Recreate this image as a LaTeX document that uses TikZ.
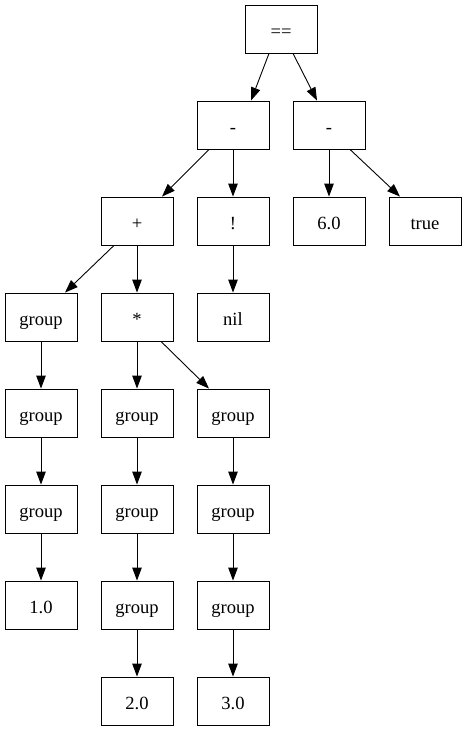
\documentclass[tikz,border=0pt]{standalone}
\usepackage{fontspec}
\setmainfont{Liberation Serif}
\usetikzlibrary{arrows.meta}
\begin{document}
\begin{tikzpicture}[x=1pt,y=-1pt,
  box/.style={draw,line width=0.9pt,minimum width=72pt,minimum height=48pt,inner sep=0pt,text height=17pt,text depth=0pt,font=\fontsize{18.6}{20}\selectfont},
  edge/.style={line width=0.9pt,-{Triangle[length=13pt,width=9.5pt]}}]
\useasboundingbox (0,0) rectangle (467,731);
\node[box] (eq) at (281,29) {==};
\node[box] (mL) at (233,125) {-};
\node[box] (mR) at (329,125) {-};
\node[box] (plus) at (137,221) {+};
\node[box] (not) at (233,221) {!};
\node[box] (six) at (329,221) {6.0};
\node[box] (tru) at (425,221) {true};
\node[box] (g1a) at (41,317) {group};
\node[box] (star) at (137,317) {*};
\node[box] (nil) at (233,317) {nil};
\node[box] (g1b) at (41,413) {group};
\node[box] (g2a) at (137,413) {group};
\node[box] (g3a) at (233,413) {group};
\node[box] (g1c) at (41,509) {group};
\node[box] (g2b) at (137,509) {group};
\node[box] (g3b) at (233,509) {group};
\node[box] (one) at (41,605) {1.0};
\node[box] (g2c) at (137,605) {group};
\node[box] (g3c) at (233,605) {group};
\node[box] (two) at (137,701) {2.0};
\node[box] (three) at (233,701) {3.0};
\draw[edge] ([xshift=-12pt]eq.south) -- ([xshift=18pt]mL.north);
\draw[edge] ([xshift=12pt]eq.south) -- ([xshift=-12pt]mR.north);
\draw[edge] ([xshift=-24pt]mL.south) -- ([xshift=25pt]plus.north);
\draw[edge] (mL) -- (not);
\draw[edge] (mR) -- (six);
\draw[edge] ([xshift=21pt]mR.south) -- ([xshift=-25pt]tru.north);
\draw[edge] ([xshift=-23pt]plus.south) -- ([xshift=24pt]g1a.north);
\draw[edge] (plus) -- (star);
\draw[edge] (not) -- (nil);
\draw[edge] (star) -- (g2a);
\draw[edge] ([xshift=24pt]star.south) -- ([xshift=-24pt]g3a.north);
\draw[edge] (g1a) -- (g1b);
\draw[edge] (g1b) -- (g1c);
\draw[edge] (g1c) -- (one);
\draw[edge] (g2a) -- (g2b);
\draw[edge] (g2b) -- (g2c);
\draw[edge] (g2c) -- (two);
\draw[edge] (g3a) -- (g3b);
\draw[edge] (g3b) -- (g3c);
\draw[edge] (g3c) -- (three);
\end{tikzpicture}
\end{document}
